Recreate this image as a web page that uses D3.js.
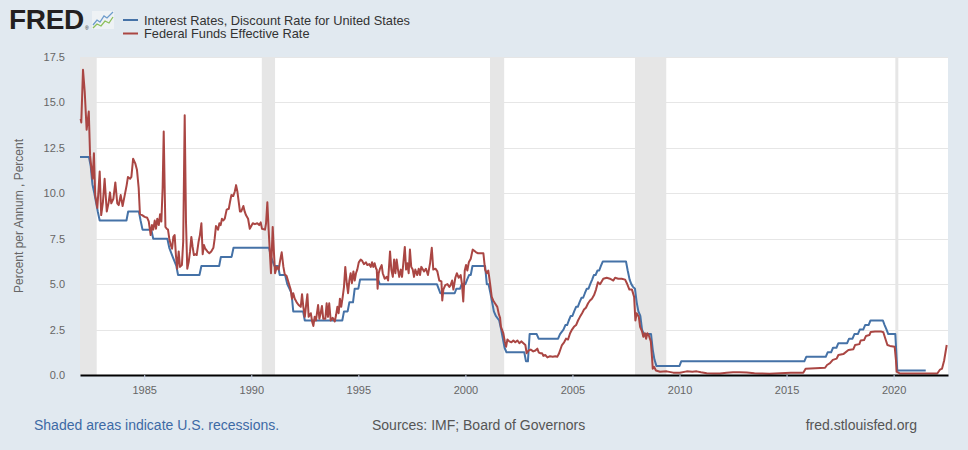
<!DOCTYPE html>
<html>
<head>
<meta charset="utf-8">
<script src="https://cdn.jsdelivr.net/npm/d3@7"></script>
<style>
  body { margin: 0; background: #e1e9f0; }
  svg { display: block; font-family: Arial, "Liberation Sans", sans-serif; }
</style>
</head>
<body>
<svg id="chart"></svg>
<script>
// ---------------------------------- Data ----------------------------------
// Years are decimal (1982.5 = mid 1982), values in percent
const recessions = [
    [1981.5, 1982.78], [1990.49, 1991.11], [2001.15, 2001.81],
    [2007.92, 2009.38], [2020.08, 2020.22]
];

// Interest Rates, Discount Rate for United States (vertices of the line)
const discountRate = [
    [1982.00,12.0],[1982.42,12.0],[1982.50,11.5],[1982.58,10.5],[1982.67,10.0],[1982.75,9.5],[1982.83,9.0],[1982.92,8.5],
    [1984.17,8.5],[1984.25,9.0],[1984.75,9.0],[1984.83,8.5],[1984.92,8.0],
    [1985.33,8.0],[1985.42,7.5],
    [1986.08,7.5],[1986.17,7.0],[1986.33,6.5],[1986.50,6.0],[1986.58,5.5],
    [1987.58,5.5],[1987.67,6.0],
    [1988.50,6.0],[1988.58,6.5],
    [1989.08,6.5],[1989.17,7.0],
    [1990.83,7.0],[1990.92,6.5],[1991.08,6.0],[1991.25,6.0],[1991.33,5.5],[1991.58,5.5],[1991.68,5.0],[1991.78,4.75],[1991.88,4.5],[1991.96,3.5],
    [1992.42,3.5],[1992.50,3.0],
    [1994.25,3.0],[1994.33,3.5],[1994.50,3.5],[1994.58,4.0],[1994.75,4.0],[1994.83,4.75],[1995.00,4.75],[1995.08,5.25],
    [1995.92,5.25],[1996.00,5.0],
    [1998.67,5.0],[1998.75,4.75],[1998.83,4.5],
    [1999.50,4.5],[1999.58,4.75],[1999.75,4.75],[1999.83,5.0],[2000.00,5.0],[2000.08,5.25],[2000.17,5.5],[2000.25,5.5],[2000.33,6.0],
    [2000.92,6.0],[2001.00,5.0],[2001.08,5.0],[2001.17,4.5],[2001.25,4.0],[2001.33,3.5],[2001.42,3.25],[2001.58,3.0],[2001.67,2.5],[2001.75,2.0],[2001.83,1.5],[2001.92,1.25],
    [2002.75,1.25],[2002.83,0.75],[2002.92,0.75],[2003.00,2.25],[2003.33,2.25],[2003.42,2.0],
    [2004.33,2.0],[2004.42,2.25],[2004.58,2.5],[2004.67,2.75],[2004.75,2.75],[2004.83,3.0],[2004.92,3.25],[2005.00,3.25],[2005.08,3.5],[2005.17,3.75],[2005.25,3.75],[2005.33,4.0],[2005.42,4.25],[2005.50,4.25],[2005.58,4.5],[2005.67,4.75],[2005.75,4.75],[2005.83,5.0],[2005.92,5.25],[2006.00,5.5],[2006.08,5.5],[2006.17,5.75],[2006.25,5.75],[2006.33,6.0],[2006.42,6.25],
    [2007.50,6.25],[2007.58,5.75],[2007.67,5.25],[2007.75,5.0],[2007.83,4.85],[2007.92,4.75],[2008.00,4.0],[2008.08,3.5],[2008.17,3.25],[2008.25,2.5],[2008.33,2.25],
    [2008.67,2.25],[2008.75,1.4],[2008.83,0.85],[2008.92,0.5],
    [2010.00,0.5],[2010.08,0.75],
    [2015.83,0.75],[2015.92,1.0],[2016.83,1.0],[2016.92,1.25],[2017.08,1.25],[2017.17,1.5],[2017.33,1.5],[2017.42,1.75],[2017.83,1.75],[2017.92,2.0],
    [2018.08,2.0],[2018.17,2.25],[2018.33,2.25],[2018.42,2.5],[2018.58,2.5],[2018.67,2.75],[2018.83,2.75],[2018.92,3.0],
    [2019.50,3.0],[2019.58,2.75],[2019.67,2.5],[2019.75,2.25],[2020.08,2.25],[2020.17,0.25],[2021.50,0.25]
];

// Federal Funds Effective Rate
const fedFunds = [
    [1982.03,14.1],[1982.06,13.9],[1982.14,16.8],[1982.22,15.6],[1982.31,13.5],[1982.41,14.5],[1982.47,12.1],[1982.53,11.4],[1982.59,10.8],[1982.65,12.2],[1982.71,9.9],[1982.81,9.2],[1982.92,11.2],[1982.99,8.8],
    [1983.07,9.5],[1983.15,10.8],[1983.25,9.0],[1983.34,9.5],[1983.40,10.05],[1983.46,9.45],[1983.56,9.7],[1983.65,10.6],[1983.74,9.45],[1983.81,9.35],[1983.90,9.9],[1983.99,9.3],
    [1984.09,9.9],[1984.18,10.45],[1984.24,10.9],[1984.34,10.8],[1984.40,10.9],[1984.48,11.9],[1984.58,11.65],[1984.66,11.3],[1984.74,10.3],[1984.80,8.85],[1984.90,8.8],
    [1985.02,8.7],[1985.14,8.65],[1985.21,8.45],[1985.30,7.7],[1985.36,8.25],[1985.42,8.0],[1985.49,8.5],[1985.55,8.05],[1985.61,8.6],[1985.68,8.25],[1985.74,8.85],[1985.80,8.45],[1985.86,10.3],[1985.91,13.4],[1985.96,9.9],[1985.99,8.15],
    [1986.05,8.05],[1986.11,8.0],[1986.17,7.5],[1986.24,7.15],[1986.30,6.95],[1986.36,7.6],[1986.42,7.7],[1986.48,6.6],[1986.54,5.85],[1986.61,6.8],[1986.67,5.95],[1986.76,6.05],[1986.82,7.35],[1986.89,14.3],[1986.95,8.45],
    [1987.01,5.85],[1987.08,6.25],[1987.14,6.8],[1987.20,7.6],[1987.26,7.05],[1987.32,6.6],[1987.39,6.65],[1987.45,6.6],[1987.54,7.35],[1987.60,7.7],[1987.67,8.35],[1987.73,6.65],[1987.79,7.15],[1987.85,6.95],[1987.95,6.8],
    [1988.04,6.7],[1988.13,6.8],[1988.23,7.0],[1988.29,7.5],[1988.35,8.2],[1988.45,8.0],[1988.51,8.35],[1988.57,8.25],[1988.63,8.6],[1988.69,8.5],[1988.76,8.6],[1988.85,9.1],[1988.95,9.15],
    [1989.01,9.55],[1989.07,9.9],[1989.16,9.85],[1989.23,10.1],[1989.29,10.45],[1989.35,10.1],[1989.41,9.55],[1989.47,9.0],[1989.53,9.0],[1989.63,9.3],[1989.69,9.0],[1989.75,8.8],[1989.85,8.6],[1989.93,8.05],
    [1990.07,8.35],[1990.17,8.3],[1990.28,8.35],[1990.37,8.25],[1990.44,8.4],[1990.50,8.05],[1990.64,8.0],[1990.69,8.35],[1990.75,9.5],[1990.81,8.0],[1990.87,6.7],[1990.92,5.6],
    [1991.00,8.15],[1991.06,6.7],[1991.11,5.6],[1991.19,5.95],[1991.28,5.8],[1991.34,6.25],[1991.42,6.75],[1991.50,5.95],[1991.56,5.55],[1991.65,5.45],[1991.75,5.05],[1991.84,4.7],[1991.90,4.2],[1991.96,4.5],
    [1992.03,4.2],[1992.12,4.0],[1992.21,3.85],[1992.31,3.75],[1992.37,4.45],[1992.43,3.75],[1992.50,3.2],[1992.56,3.85],[1992.62,4.45],[1992.68,3.2],[1992.78,3.4],[1992.84,2.95],[1992.90,2.7],[1992.96,3.2],
    [1993.02,3.0],[1993.12,3.85],[1993.18,3.1],[1993.24,3.4],[1993.30,3.8],[1993.36,3.1],[1993.46,3.1],[1993.52,3.95],[1993.58,3.2],[1993.64,3.95],[1993.71,3.0],[1993.80,3.15],[1993.90,2.95],[1993.96,3.3],
    [1994.02,3.75],[1994.08,3.4],[1994.14,4.2],[1994.20,3.75],[1994.27,4.3],[1994.33,4.85],[1994.39,5.95],[1994.46,5.05],[1994.52,4.5],[1994.58,5.2],[1994.64,5.6],[1994.70,5.05],[1994.77,5.7],[1994.83,5.2],[1994.89,5.6],[1994.95,5.8],
    [1995.02,6.2],[1995.11,6.35],[1995.17,6.3],[1995.26,6.1],[1995.36,6.2],[1995.42,6.05],[1995.51,6.1],[1995.58,5.95],[1995.64,6.2],[1995.70,5.95],[1995.76,6.15],[1995.83,5.85],[1995.86,5.8],[1995.90,4.75],[1995.95,5.6],
    [1996.01,5.85],[1996.09,6.05],[1996.14,5.6],[1996.23,5.3],[1996.33,5.4],[1996.39,5.2],[1996.48,6.8],[1996.54,5.8],[1996.61,5.4],[1996.67,6.35],[1996.73,5.6],[1996.79,6.35],[1996.85,5.8],[1996.91,5.4],[1996.98,5.8],
    [1997.04,5.4],[1997.10,6.15],[1997.17,7.05],[1997.23,5.8],[1997.29,6.15],[1997.35,5.6],[1997.41,6.9],[1997.47,5.95],[1997.54,5.8],[1997.60,5.4],[1997.66,5.8],[1997.75,5.5],[1997.82,5.85],[1997.88,5.5],[1997.94,5.95],
    [1998.07,5.7],[1998.16,5.85],[1998.25,5.5],[1998.35,6.15],[1998.43,7.0],[1998.50,5.8],[1998.60,5.85],[1998.69,5.7],[1998.78,5.2],[1998.88,5.15],[1998.92,4.1],[1998.97,4.7],
    [1999.06,4.95],[1999.16,5.0],[1999.25,4.85],[1999.31,4.95],[1999.38,5.2],[1999.44,4.7],[1999.53,5.35],[1999.60,5.6],[1999.69,5.35],[1999.78,5.5],[1999.84,5.0],[1999.90,4.05],[1999.97,5.75],
    [2000.03,6.05],[2000.09,5.75],[2000.16,6.2],[2000.25,6.4],[2000.34,6.9],[2000.40,6.85],[2000.50,6.75],[2000.59,6.7],[2000.68,6.7],[2000.84,6.7],[2000.92,5.8],
    [2001.00,5.6],[2001.07,5.75],[2001.15,5.05],[2001.23,4.3],[2001.30,4.1],[2001.38,3.95],[2001.49,3.75],[2001.56,3.35],[2001.62,3.15],[2001.66,2.65],[2001.71,2.5],[2001.77,2.3],[2001.84,1.85],[2001.90,1.55],[2001.96,1.95],
    [2002.05,1.85],[2002.15,1.8],[2002.24,1.9],[2002.33,1.8],[2002.43,1.9],[2002.52,1.75],[2002.61,1.85],[2002.71,1.75],[2002.80,1.65],[2002.86,1.2],[2002.96,1.35],
    [2003.05,1.4],[2003.17,1.3],[2003.27,1.35],[2003.36,1.45],[2003.42,1.25],[2003.49,1.2],[2003.58,1.2],[2003.64,1.05],[2003.73,1.1],[2003.83,0.97],[2003.95,1.03],
    [2004.08,1.0],[2004.20,1.03],[2004.29,1.0],[2004.36,1.15],[2004.42,1.35],[2004.51,1.65],[2004.61,1.8],[2004.70,2.0],[2004.79,1.95],[2004.89,2.3],[2004.98,2.5],
    [2005.07,2.65],[2005.17,2.75],[2005.26,3.0],[2005.35,3.2],[2005.45,3.4],[2005.54,3.6],[2005.63,3.7],[2005.73,3.95],[2005.82,4.1],[2005.91,4.2],
    [2006.01,4.4],[2006.10,4.7],[2006.19,5.1],[2006.29,5.0],[2006.44,5.3],[2006.60,5.35],[2006.75,5.3],[2006.91,5.2],[2006.99,5.35],
    [2007.14,5.3],[2007.30,5.3],[2007.46,5.25],[2007.54,5.05],[2007.66,4.7],[2007.78,4.7],[2007.88,4.3],[2007.94,3.0],
    [2008.00,3.4],[2008.10,3.2],[2008.16,2.65],[2008.25,2.4],[2008.31,2.1],[2008.38,2.3],[2008.44,2.0],[2008.50,2.3],[2008.56,2.2],[2008.66,1.85],[2008.72,0.9],[2008.75,0.35],[2008.81,0.45],[2008.90,0.25],
    [2009.09,0.18],[2009.40,0.2],[2009.71,0.13],[2010.02,0.12],[2010.34,0.2],[2010.60,0.18],[2010.80,0.2],[2011.00,0.15],[2011.27,0.1],[2011.60,0.08],[2011.89,0.08],
    [2012.20,0.12],[2012.50,0.15],[2012.80,0.15],[2013.14,0.14],[2013.50,0.1],[2013.76,0.08],[2014.20,0.07],[2014.70,0.09],[2015.20,0.12],[2015.78,0.13],
    [2015.89,0.35],[2016.80,0.4],[2016.89,0.55],[2017.03,0.65],[2017.16,0.83],[2017.34,0.9],[2017.42,1.1],[2017.65,1.15],[2017.89,1.38],[2018.12,1.42],[2018.20,1.65],[2018.40,1.7],[2018.46,1.9],[2018.62,1.92],[2018.71,2.15],[2018.87,2.2],[2018.93,2.37],
    [2019.13,2.4],[2019.40,2.4],[2019.52,2.35],[2019.60,2.05],[2019.71,1.65],[2019.83,1.6],[2020.05,1.55],[2020.11,0.8],[2020.14,0.18],[2020.30,0.08],[2021.23,0.08],[2022.04,0.08],
    [2022.17,0.3],[2022.26,0.35],[2022.36,0.8],[2022.48,1.65]
];

const seriesNames = ["Interest Rates, Discount Rate for United States", "Federal Funds Effective Rate"];
const seriesColors = ["#4572a7", "#aa4643"];
const xTicks = [1985, 1990, 1995, 2000, 2005, 2010, 2015, 2020];
const yTicks = [0, 2.5, 5, 7.5, 10, 12.5, 15, 17.5];

// ---------------------------------- Chart ----------------------------------
const width = 968;
const height = 450;
const plot = {left: 80, right: 948, top: 57, bottom: 375};

const svg = d3.select("#chart")
    .attr("width", width)
    .attr("height", height);

// Scales
const x = d3.scaleLinear()
    .domain([1982.0, 2022.54])
    .range([plot.left, plot.right]);

const y = d3.scaleLinear()
    .domain([0, 17.5])
    .range([plot.bottom, plot.top]);

// White plot background
svg.append("rect")
    .attr("x", plot.left)
    .attr("y", plot.top)
    .attr("width", plot.right - plot.left)
    .attr("height", plot.bottom - plot.top)
    .attr("fill", "#ffffff");

// Horizontal gridlines
svg.append("g")
    .selectAll("line")
    .data(yTicks.filter(d => d > 0))
    .enter()
    .append("line")
    .attr("x1", plot.left)
    .attr("x2", plot.right)
    .attr("y1", d => Math.round(y(d)) + 0.5)
    .attr("y2", d => Math.round(y(d)) + 0.5)
    .attr("stroke", "#e6e6e6")
    .attr("stroke-width", 1);

// Recession shading
svg.append("g")
    .selectAll("rect")
    .data(recessions)
    .enter()
    .append("rect")
    .attr("x", d => x(Math.max(d[0], x.domain()[0])))
    .attr("y", plot.top)
    .attr("width", d => x(d[1]) - x(Math.max(d[0], x.domain()[0])))
    .attr("height", plot.bottom - plot.top)
    .attr("fill", "#e6e6e6");

// Lines
const line = d3.line()
    .x(d => x(d[0]))
    .y(d => y(d[1]));

[discountRate, fedFunds].forEach((series, i) => {
    svg.append("path")
        .datum(series)
        .attr("fill", "none")
        .attr("stroke", seriesColors[i])
        .attr("stroke-width", 2)
        .attr("stroke-linejoin", "round")
        .attr("d", line);
});

// X axis
const xAxis = svg.append("g")
    .attr("transform", `translate(0,${plot.bottom})`)
    .call(d3.axisBottom(x)
        .tickValues(xTicks)
        .tickFormat(d3.format("d"))
        .tickSize(5)
        .tickSizeOuter(0)
        .tickPadding(6));
xAxis.select(".domain").attr("stroke", "#000").attr("stroke-width", 2);
xAxis.selectAll(".tick line").attr("stroke", "#ccd6eb");
xAxis.selectAll(".tick text")
    .attr("fill", "#666")
    .style("font-size", "11px")
    .style("font-family", "Arial, 'Liberation Sans', sans-serif");

// Y axis (labels only)
const yAxis = svg.append("g")
    .attr("transform", `translate(${plot.left},0)`)
    .call(d3.axisLeft(y)
        .tickValues(yTicks)
        .tickFormat(d3.format(".1f"))
        .tickSize(0)
        .tickPadding(15));
yAxis.select(".domain").remove();
yAxis.selectAll(".tick text")
    .attr("fill", "#666")
    .style("font-size", "11px")
    .style("font-family", "Arial, 'Liberation Sans', sans-serif");

// Y axis title
svg.append("text")
    .attr("transform", `translate(23,${(plot.top + plot.bottom) / 2}) rotate(-90)`)
    .style("text-anchor", "middle")
    .style("font-size", "12px")
    .attr("fill", "#666")
    .text("Percent per Annum , Percent");

// FRED logo
const logo = svg.append("g");
logo.append("text")
    .attr("x", 9)
    .attr("y", 29)
    .style("font-size", "28px")
    .style("font-weight", "bold")
    .style("letter-spacing", "-0.3px")
    .attr("fill", "#231f20")
    .text("FRED");
logo.append("text")
    .attr("x", 85)
    .attr("y", 30)
    .style("font-size", "5px")
    .attr("fill", "#231f20")
    .text("®");
logo.append("rect")
    .attr("x", 92).attr("y", 11)
    .attr("width", 22).attr("height", 18)
    .attr("fill", "#eef2f5");
logo.append("polyline")
    .attr("points", "93,25 97,20 100,22 104,16 107,18 113,12")
    .attr("fill", "none").attr("stroke", "#6e9ccc").attr("stroke-width", 1.3);
logo.append("polyline")
    .attr("points", "93,28 97,24 101,26 105,21 109,23 113,17")
    .attr("fill", "none").attr("stroke", "#8cbf5a").attr("stroke-width", 1.3);

// Legend
const legend = svg.append("g");
seriesNames.forEach((name, i) => {
    const ly = 20 + i * 13.5;
    legend.append("line")
        .attr("x1", 123)
        .attr("x2", 138)
        .attr("y1", ly)
        .attr("y2", ly)
        .attr("stroke", seriesColors[i])
        .attr("stroke-width", 2);
    legend.append("text")
        .attr("x", 144)
        .attr("y", ly + 4.5)
        .style("font-size", "12.8px")
        .attr("fill", "#333")
        .text(name);
});

// Footer
svg.append("text")
    .attr("x", 34)
    .attr("y", 430)
    .style("font-size", "14px")
    .attr("fill", "#3d6aa5")
    .text("Shaded areas indicate U.S. recessions.");

svg.append("text")
    .attr("x", 372)
    .attr("y", 430)
    .style("font-size", "14px")
    .attr("fill", "#555")
    .text("Sources: IMF; Board of Governors");

svg.append("text")
    .attr("x", 917)
    .attr("y", 430)
    .style("font-size", "14px")
    .style("text-anchor", "end")
    .attr("fill", "#555")
    .text("fred.stlouisfed.org");
</script>
</body>
</html>
